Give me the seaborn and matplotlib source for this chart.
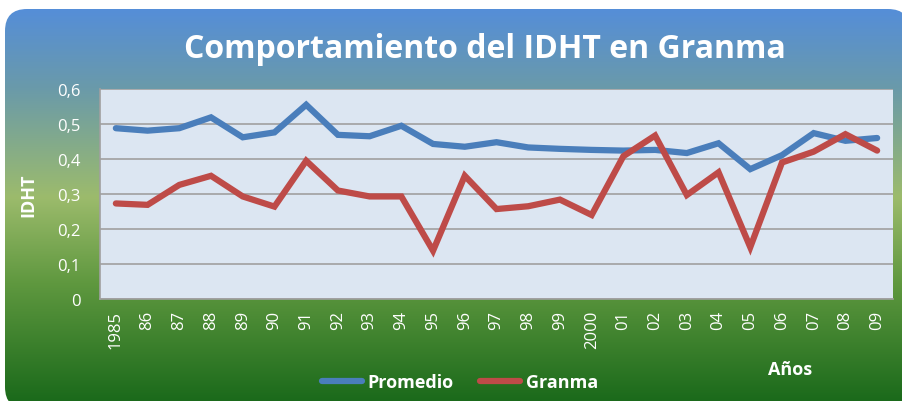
import numpy as np
import pandas as pd
import matplotlib
matplotlib.use("Agg")
import matplotlib.pyplot as plt
from matplotlib.colors import LinearSegmentedColormap
from matplotlib.patches import FancyBboxPatch
import seaborn as sns

years = ["1985", "86", "87", "88", "89", "90", "91", "92", "93", "94", "95", "96", "97",
         "98", "99", "2000", "01", "02", "03", "04", "05", "06", "07", "08", "09"]
promedio = [0.488, 0.481, 0.488, 0.519, 0.462, 0.476, 0.555, 0.469, 0.465, 0.495, 0.443, 0.435,
            0.448, 0.433, 0.429, 0.426, 0.424, 0.426, 0.417, 0.445, 0.371, 0.411, 0.474, 0.452, 0.460]
granma = [0.273, 0.269, 0.326, 0.352, 0.293, 0.264, 0.395, 0.310, 0.293, 0.293, 0.138, 0.352,
          0.257, 0.265, 0.284, 0.240, 0.408, 0.467, 0.297, 0.362, 0.148, 0.390, 0.421, 0.471, 0.424]
y_ticks = [0, 0.1, 0.2, 0.3, 0.4, 0.5, 0.6]
y_labels = ["0", "0,1", "0,2", "0,3", "0,4", "0,5", "0,6"]
series_names = ["Promedio", "Granma"]
colors = ["#4a7ebb", "#be4b48"]

df = pd.DataFrame({
    "idx": list(range(len(years))) * 2,
    "valor": promedio + granma,
    "serie": [series_names[0]] * len(years) + [series_names[1]] * len(years),
})

sns.set_style("white")
plt.rcParams["font.family"] = ["Open Sans", "DejaVu Sans"]

W, H = 9.03, 4.02
fig = plt.figure(figsize=(W, H), dpi=100)
fig.patch.set_facecolor("white")

# gradient background with rounded box
bg = fig.add_axes([0, 0, 1, 1], zorder=-10)
bg.set_xlim(0, 903)
bg.set_ylim(402, 0)
bg.axis("off")
cmap = LinearSegmentedColormap.from_list("bg", [
    (0.0, "#558ed8"), (0.2, "#6a9aaa"), (0.48, "#9cbb6c"), (0.7, "#5f983f"), (1.0, "#1b6a1b")])
grad = np.linspace(0, 1, 256).reshape(-1, 1)
im = bg.imshow(grad, cmap=cmap, aspect="auto", extent=[5, 910, 402, 10], interpolation="bilinear")
box = FancyBboxPatch((5, 10), 905, 400, boxstyle="round,pad=0,rounding_size=22",
                     transform=bg.transData, facecolor="none", edgecolor="none")
bg.add_patch(box)
im.set_clip_path(box)

ax = fig.add_axes([100 / 903, 1 - 300 / 402, 793 / 903, 210 / 402])
ax.set_facecolor("#dce6f2")
sns.lineplot(data=df, x="idx", y="valor", hue="serie", palette=colors, linewidth=4.5,
             ax=ax, legend=False, solid_capstyle="round", solid_joinstyle="miter")

ax.set_xlim(-0.5, len(years) - 0.5)
ax.set_ylim(0, 0.6)
ax.set_yticks(y_ticks)
ax.set_yticklabels(y_labels, color="white", fontsize=12)
ax.set_xticks(range(len(years)))
ax.set_xticklabels(years, rotation=90, color="white", fontsize=12)
ax.set_xticks(np.arange(-0.5, len(years), 1), minor=True)
ax.tick_params(axis="x", which="major", length=0, pad=8)
ax.tick_params(axis="x", which="minor", length=5, color="#a0a0a0", width=1)
ax.tick_params(axis="y", length=6, color="#a0a0a0", width=1, pad=8)
ax.grid(axis="y", color="#a0a0a0", linewidth=1.2)
ax.set_axisbelow(True)
for s in ["top", "right"]:
    ax.spines[s].set_visible(False)
for s in ["left", "bottom"]:
    ax.spines[s].set_color("#a0a0a0")
    ax.spines[s].set_linewidth(1.2)
ax.set_xlabel("")
ax.set_ylabel("IDHT", color="white", fontsize=13, fontweight="bold", labelpad=14)

fig.text(485 / 903, 1 - 50 / 402, "Comportamiento del IDHT en Granma", color="white",
         fontsize=23, fontweight="bold", ha="center", va="center")
fig.text(790 / 903, 1 - 370 / 402, "Años", color="white", fontsize=13, fontweight="bold",
         ha="center", va="center")

from matplotlib.lines import Line2D
handles = [Line2D([0], [0], color=c, linewidth=4.5, solid_capstyle="round") for c in colors]
leg = fig.legend(handles, series_names, loc="center", bbox_to_anchor=(460 / 903, 1 - 383 / 402),
                 ncol=2, frameon=False, fontsize=13, handlelength=2.2, columnspacing=1.5,
                 handletextpad=0.3)
for t in leg.get_texts():
    t.set_color("white")
    t.set_fontweight("bold")

fig.savefig("out.png", dpi=100)
